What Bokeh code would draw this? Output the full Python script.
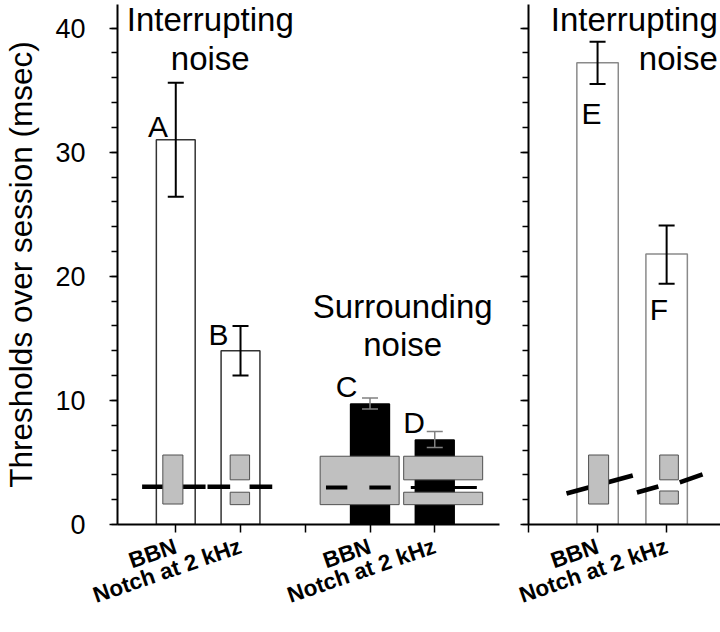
import math
from bokeh.plotting import figure
from bokeh.layouts import row
from bokeh.models import (ColumnDataSource, Whisker, TeeHead, FixedTicker,
                          SingleIntervalTicker, Range1d, CustomJSTickFormatter)
from bokeh.core.properties import value
from bokeh.embed import file_html
from bokeh.resources import INLINE

# ---------------- data ----------------
left_letters = ["A", "B", "C", "D"]
left_pos = [1, 2, 4, 5]
left_mean = [31.0, 14.0, 9.7, 6.8]
left_upper = [35.6, 16.0, 10.2, 7.5]
left_lower = [26.4, 12.0, 9.3, 6.2]
left_kind = ["interrupting", "interrupting", "surrounding", "surrounding"]

right_letters = ["E", "F"]
right_pos = [1, 2]
right_mean = [37.2, 21.8]
right_upper = [38.9, 24.1]
right_lower = [35.5, 19.4]

left_tick_pos = [1, 2, 3, 4, 5]
left_tick_text = ["BBN", "Notch at 2 kHz", "", "BBN", "Notch at 2 kHz"]
right_tick_pos = [0, 1, 2]
right_tick_text = ["", "BBN", "Notch at 2 kHz"]

y_label = "Thresholds over session (msec)"
title_interrupting = ["Interrupting", "noise"]
title_surrounding = ["Surrounding", "noise"]

# ---------------- styles / layout ----------------
FONT = "Liberation Sans"
H = 632
W_LEFT, W_RIGHT = 500, 220
Y_MAX = 41.9
PX_PER_UNIT = 520 / Y_MAX
BAR_W = 0.6
BAND_FILL = "#c0c0c0"
BAND_LINE = "#505050"
TITLE_FS = 33
LETTER_FS = 30


def ty(y, fs):
    """compensate the baseline placement of text glyphs (pixels -> axis units)"""
    return y + 0.37 * fs / PX_PER_UNIT


# letter label offsets (dx, baseline dy) relative to bar centre / bar top
left_letter_off = [(-0.275, 0.2), (-0.34, 0.4), (-0.36, 0.5), (-0.32, 0.5)]
right_letter_off = [(-0.087, -5.0), (-0.11, -5.35)]

# stimulus schematics (axis units)
left_bands = dict(left=[0.80, 1.84, 1.84, 3.23, 4.52, 4.52],
                  right=[1.11, 2.14, 2.14, 4.45, 5.74, 5.74],
                  bottom=[1.65, 3.6, 1.6, 1.6, 3.6, 1.6],
                  top=[5.6, 5.6, 2.6, 5.5, 5.5, 2.6])
left_tone_under = dict(x0=[0.48, 1.49, 2.14], x1=[1.46, 1.84, 2.49],
                       y0=[3.05, 3.05, 3.05], y1=[3.05, 3.05, 3.05])
left_tone_c = dict(x0=[3.32, 3.99], x1=[3.65, 4.32], y0=[2.98, 2.98], y1=[2.98, 2.98])
left_tone_d = dict(x0=[4.63, 5.28], x1=[4.96, 5.65], y0=[2.98, 2.98], y1=[2.98, 2.98])

right_bands = dict(left=[0.87, 1.90, 1.90], right=[1.16, 2.17, 2.17],
                   bottom=[1.65, 3.6, 1.65], top=[5.6, 5.6, 2.7])
right_tone = dict(x0=[0.55, 1.57, 2.19], x1=[1.51, 1.88, 2.52],
                  y0=[2.50, 2.58, 3.39], y1=[3.95, 3.06, 4.04])


def make_fig(width, x_range, b_left, b_right, ticks, tick_text):
    p = figure(width=width, height=H, x_range=x_range, y_range=Range1d(0, Y_MAX),
               output_backend="svg", toolbar_location=None,
               min_border_left=b_left, min_border_right=b_right,
               min_border_top=4, min_border_bottom=108)
    p.grid.visible = False
    p.outline_line_color = None
    p.background_fill_color = "white"
    p.border_fill_color = "white"
    ax = p.xaxis[0]
    ax.ticker = FixedTicker(ticks=ticks)
    ax.major_label_overrides = {t: s for t, s in zip(ticks, tick_text)}
    ax.major_label_orientation = math.radians(19)
    ax.major_label_text_font = FONT
    ax.major_label_text_font_style = "bold"
    ax.major_label_text_font_size = "22.5px"
    ax.major_label_text_color = "black"
    ax.major_label_standoff = 13
    ax.major_tick_out = 8
    ax.major_tick_in = 0
    ax.minor_tick_line_color = None
    ax.axis_line_width = 2
    ax.axis_line_color = "black"
    ax.major_tick_line_width = 1.5
    ax.major_tick_line_color = "black"

    ay = p.yaxis[0]
    ay.ticker = SingleIntervalTicker(interval=10, num_minor_ticks=5)
    ay.major_tick_out = 8
    ay.major_tick_in = 0
    ay.minor_tick_out = 6
    ay.minor_tick_in = 0
    ay.axis_line_width = 2
    ay.axis_line_color = "black"
    ay.major_tick_line_width = 1.5
    ay.minor_tick_line_width = 1.5
    ay.major_tick_line_color = "black"
    ay.minor_tick_line_color = "black"
    ay.major_label_text_font = FONT
    ay.major_label_text_font_size = "27px"
    ay.major_label_text_color = "black"
    ay.major_label_standoff = 24
    return p


def add_text(p, xs, ys, texts, fs, align):
    p.text(x=xs, y=[ty(y, fs) for y in ys], text=texts, text_font=value(FONT),
           text_font_size=f"{fs}px", text_align=align, text_baseline="alphabetic",
           text_color="black")


def add_whiskers(p, xs, ups, los, col, lw):
    s = ColumnDataSource(dict(x=xs, up=ups, lo=los))
    p.add_layout(Whisker(source=s, base="x", upper="up", lower="lo", dimension="height",
                         line_color=col, line_width=lw, level="overlay",
                         upper_head=TeeHead(size=16, line_color=col, line_width=lw),
                         lower_head=TeeHead(size=16, line_color=col, line_width=lw)))


# ---------------- left panel ----------------
p1 = make_fig(W_LEFT, Range1d(0.1, 6.0), 112, 1, left_tick_pos, left_tick_text)
p1.yaxis.axis_label = y_label
p1.yaxis.axis_label_text_font = FONT
p1.yaxis.axis_label_text_font_style = "normal"
p1.yaxis.axis_label_text_font_size = "31.5px"
p1.yaxis.axis_label_text_color = "black"
p1.yaxis.axis_label_standoff = 13

fills = ["white" if k == "interrupting" else "black" for k in left_kind]
lines = ["#333333" if k == "interrupting" else "black" for k in left_kind]
src_l = ColumnDataSource(dict(x=left_pos, top=left_mean, fill=fills, line=lines))
p1.vbar(x="x", top="top", bottom=0, width=BAR_W, fill_color="fill", line_color="line",
        line_width=1.5, source=src_l)

p1.segment(x0="x0", x1="x1", y0="y0", y1="y1", line_width=4.5, line_color="black",
           line_cap="butt", source=ColumnDataSource(left_tone_under))
p1.quad(left="left", right="right", bottom="bottom", top="top", fill_color=BAND_FILL,
        line_color=BAND_LINE, line_width=1, source=ColumnDataSource(left_bands))
p1.segment(x0="x0", x1="x1", y0="y0", y1="y1", line_width=4, line_color="black",
           line_cap="butt", source=ColumnDataSource(left_tone_c))
p1.segment(x0="x0", x1="x1", y0="y0", y1="y1", line_width=3, line_color="black",
           line_cap="butt", source=ColumnDataSource(left_tone_d))

add_whiskers(p1, left_pos[:2], left_upper[:2], left_lower[:2], "black", 2)
add_whiskers(p1, left_pos[2:], left_upper[2:], left_lower[2:], "#808080", 1.5)

add_text(p1, [left_pos[i] + left_letter_off[i][0] for i in range(4)],
         [left_mean[i] + left_letter_off[i][1] for i in range(4)],
         left_letters, LETTER_FS, "center")
add_text(p1, [1.533, 1.533], [39.68, 36.6], title_interrupting, TITLE_FS, "center")
add_text(p1, [4.505, 4.505], [16.61, 13.55], title_surrounding, TITLE_FS, "center")

# ---------------- right panel ----------------
p2 = make_fig(W_RIGHT, Range1d(0, 2.78), 28, 0, right_tick_pos, right_tick_text)
p2.yaxis.formatter = CustomJSTickFormatter(code="return ''")
p2.yaxis.major_label_standoff = 0

p2.vbar(x=right_pos, top=right_mean, bottom=0, width=BAR_W, fill_color="white",
        line_color="#8a8a8a", line_width=1.5)
p2.segment(x0="x0", x1="x1", y0="y0", y1="y1", line_width=4.5, line_color="black",
           line_cap="butt", source=ColumnDataSource(right_tone))
p2.quad(left="left", right="right", bottom="bottom", top="top", fill_color=BAND_FILL,
        line_color=BAND_LINE, line_width=1, source=ColumnDataSource(right_bands))

add_whiskers(p2, right_pos, right_upper, right_lower, "black", 2)

add_text(p2, [right_pos[i] + right_letter_off[i][0] for i in range(2)],
         [right_mean[i] + right_letter_off[i][1] for i in range(2)],
         right_letters, LETTER_FS, "center")
add_text(p2, [2.74, 2.74], [39.68, 36.6], title_interrupting, TITLE_FS, "right")

layout = row(p1, p2, spacing=0)
open("out.html", "w").write(file_html(layout, INLINE))
